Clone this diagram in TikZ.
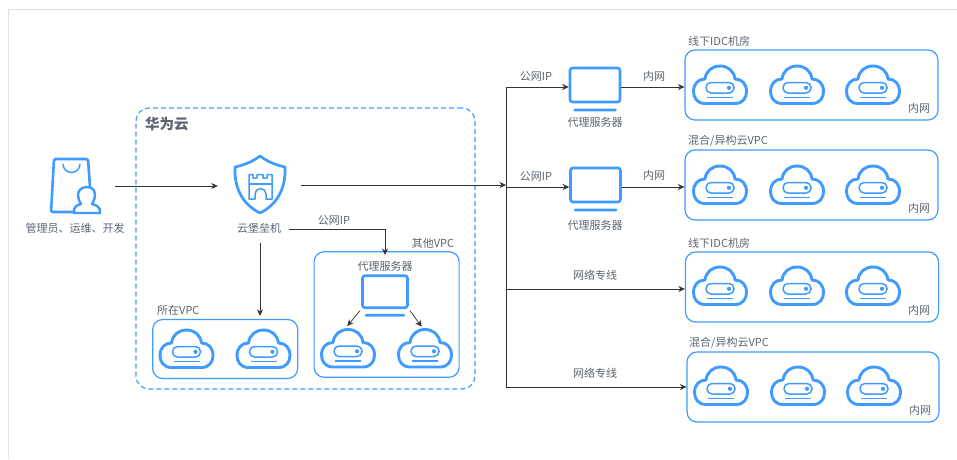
\documentclass[tikz,border=0pt]{standalone}
\usepackage{fontspec}
\setmainfont{Noto Sans CJK SC}
\usetikzlibrary{arrows.meta,positioning}
\definecolor{iconblue}{HTML}{3F9BFF}
\definecolor{txtgray}{HTML}{5C6470}
\definecolor{framegray}{HTML}{E2E2E2}
\tikzset{
  cloudicon/.pic={
    \draw[iconblue,line width=2.9pt,line join=round] (-15,18.5) .. controls (-23,18.5) and (-26.5,12.5) .. (-26.5,6.5)
      .. controls (-26.5,-1) and (-22,-6) .. (-15,-6) .. controls (-14,-14) and (-8,-19) .. (0,-19)
      .. controls (8,-19) and (14,-14) .. (15,-6) .. controls (22,-6) and (26.5,-1) .. (26.5,6.5)
      .. controls (26.5,12.5) and (23,18.5) .. (15,18.5) -- cycle;
    \draw[iconblue,line width=1.5pt,rounded corners=5pt] (-14,-2.5) rectangle (14,8);
    \fill[iconblue] (9,2.8) circle (2.1pt);
    \draw[iconblue,line width=1.3pt] (-13,12.5) -- (13,12.5);
  },
}
\begin{document}
\begin{tikzpicture}[x=1pt,y=-1pt,>={Stealth[length=6.5pt,width=6pt]}
    ,txt/.style = {text=txtgray, font=\fontsize{11}{13}\selectfont, inner sep=0pt}
    ,title/.style = {txt, anchor=west}
    ,group/.style = {draw=iconblue, line width=1.2pt, rounded corners=10pt, rectangle, inner sep=0pt}
    ,laptop/.style = {draw=iconblue, line width=2.6pt, rounded corners=2.5pt, rectangle, inner sep=0pt}
    ,laptopbase/.style = {fill=iconblue, rounded corners=1pt, rectangle, inner sep=0pt, minimum height=2.8pt}
    ,link/.style = {draw=black!80, line width=.7pt}
    ,tip/.style = {link, ->}
  ]
  \useasboundingbox (0,0) rectangle (957,459);

  % frame
  \draw[framegray, line width=1pt] (957,9) -- (8,9) -- (8,459);

  % cloud area
  \node(huawei) [draw=iconblue, dash pattern=on 5pt off 3pt, line width=1.2pt, rounded corners=13pt, minimum width=339pt, minimum height=281pt, inner sep=0pt] at (305.5,248.5) {};
  \node(huaweitext) [txt, font=\fontsize{14.5}{16}\selectfont\bfseries, anchor=west] at (145,124) {华为云};

  % user
  \draw[iconblue, line width=2.6pt, line join=round, rounded corners=1.5pt] (73,212) -- (51,212) -- (54,159) -- (88,159) -- (90,187);
  \draw[iconblue, line width=1.5pt] (63,164) arc[start angle=180, end angle=0, radius=8.5];
  \draw[iconblue, line width=2.4pt, line join=round, fill=white] (74,213) .. controls (73,207) and (77,205) .. (81,204)
    .. controls (79,201) and (78,198) .. (78,195) .. controls (78,190) and (82,187) .. (87,187)
    .. controls (92,187) and (95,190) .. (95,195) .. controls (95,198) and (94,201) .. (92,204)
    .. controls (96,205) and (101,207) .. (100,213) -- cycle;
  \node(user) [minimum width=50pt, minimum height=56pt, inner sep=0pt] at (75,186) {};
  \node(usertext) [txt] at (75,228) {管理员、运维、开发};

  % bastion
  \draw[iconblue, line width=2.7pt, line join=round] (260,156) .. controls (268,162) and (276,165) .. (285,167)
    .. controls (286,190) and (276,205) .. (260,213) .. controls (244,205) and (234,190) .. (235,167)
    .. controls (244,165) and (252,162) .. (260,156) -- cycle;
  \draw[iconblue, line width=1.5pt, line join=round] (249,199) -- (249,174.5) -- (253,174.5) -- (253,178) -- (257,178) -- (257,174.5) -- (263,174.5)
    -- (263,178) -- (267,178) -- (267,174.5) -- (272,174.5) -- (272,199) -- (266,199) -- (266,194) arc[start angle=0, end angle=-180, radius=5.5] -- (255,199) -- cycle;
  \draw[iconblue, line width=1.3pt] (249,184) -- (272,184);
  \node(bastion) [minimum width=52pt, minimum height=58pt, inner sep=0pt] at (260,184.5) {};
  \node(bastiontext) [txt] at (259,228) {云堡垒机};

  % local vpc
  \node(localvpc) [group, minimum width=145pt, minimum height=59pt] at (225.2,349) {};
  \node [title] at (157,310) {所在VPC};
  \pic at (186.5,349) {cloudicon};
  \pic at (263.5,349) {cloudicon};

  % other vpc
  \node(othervpc) [group, minimum width=145pt, minimum height=125.5pt] at (386.6,314.5) {};
  \node [txt] at (433,243) {其他VPC};
  \node(innerproxytext) [txt] at (385,266) {代理服务器};
  \node(innerproxy) [laptop, minimum width=45pt, minimum height=32pt] at (385,291.7) {};
  \node(innerbase) [laptopbase, minimum width=40pt, below=4.6pt of innerproxy] {};
  \pic at (348,348.5) {cloudicon};
  \pic at (425,348.5) {cloudicon};
  \coordinate (cloudc) at (347.3,326);
  \coordinate (cloudd) at (421.7,326.7);

  % targets
  \node(idca) [group, minimum width=253pt, minimum height=70pt] at (811.5,85) {};
  \node(hybrida) [group, minimum width=253pt, minimum height=70pt] at (811.5,185) {};
  \node(idcb) [group, minimum width=253pt, minimum height=70pt] at (812,287) {};
  \node(hybridb) [group, minimum width=252pt, minimum height=70pt] at (813,387) {};
  \node [title] at (688,41) {线下IDC机房};
  \node [title] at (688,141) {混合/异构云VPC};
  \node [title] at (688,243) {线下IDC机房};
  \node [title] at (689,343) {混合/异构云VPC};
  \node [txt] at (919,108) {内网};
  \node [txt] at (919,208) {内网};
  \node [txt] at (919,310) {内网};
  \node [txt] at (920,410) {内网};
  \foreach \cx in {720,797,873}{
    \pic at (\cx,85) {cloudicon};
    \pic at (\cx,185) {cloudicon};
    \pic at (\cx,286) {cloudicon};
    \pic at (\cx+1,386) {cloudicon};
  }

  % proxies
  \node(proxya) [laptop, minimum width=50pt, minimum height=34pt] at (595,85) {};
  \node(basea) [laptopbase, minimum width=43pt, below=5pt of proxya] {};
  \node(proxyatext) [txt] at (595,122) {代理服务器};
  \node(proxyb) [laptop, minimum width=50pt, minimum height=34pt] at (595.5,185) {};
  \node(baseb) [laptopbase, minimum width=43pt, below=5pt of proxyb] {};
  \node(proxybtext) [txt] at (595,225) {代理服务器};

  % bus
  \coordinate (busa) at (506,87);
  \coordinate (busin) at (506,185);
  \coordinate (busb) at (506,187);
  \coordinate (busc) at (506,289);
  \coordinate (busd) at (506,387);
  \coordinate (corner) at (385,229);
  \coordinate (cornerend) at (385,255);
  \coordinate (usera) at (115,186);
  \coordinate (bastiona) at (301,185);
  \coordinate (bastionb) at (289,229);
  \coordinate (bastionc) at (260,243);

  \draw[tip, shorten >=16pt] (usera) -- (bastion.west |- usera);
  \draw[tip] (bastiona) -- (busin);
  \draw[link] (busa) -- (busd);
  \draw[tip] (busa) -- (proxya.west |- busa);
  \draw[tip] (proxya.east |- busa) -- (idca.west |- busa);
  \draw[tip] (busb) -- (proxyb.west |- busb);
  \draw[tip] (proxyb.east |- busb) -- (hybrida.west |- busb);
  \draw[tip] (busc) -- (idcb.west |- busc);
  \draw[tip] (busd) -- (hybridb.west |- busd);
  \draw[tip] (bastionb) -- (corner) -- (cornerend);
  \draw[tip, shorten >=3pt] (bastionc) -- (localvpc.north -| bastionc);
  \draw[tip] (innerproxy.south west) ++(-1,1.5) -- (cloudc);
  \draw[tip] (innerproxy.south east) ++(1,1.5) -- (cloudd);

  % labels on the links
  \node [txt] at (536,76) {公网IP};
  \node [txt] at (536,176) {公网IP};
  \node [txt] at (654,76) {内网};
  \node [txt] at (654,175) {内网};
  \node [txt] at (595,275) {网络专线};
  \node [txt] at (595,373) {网络专线};
  \node [txt] at (334,220) {公网IP};
\end{tikzpicture}
\end{document}
